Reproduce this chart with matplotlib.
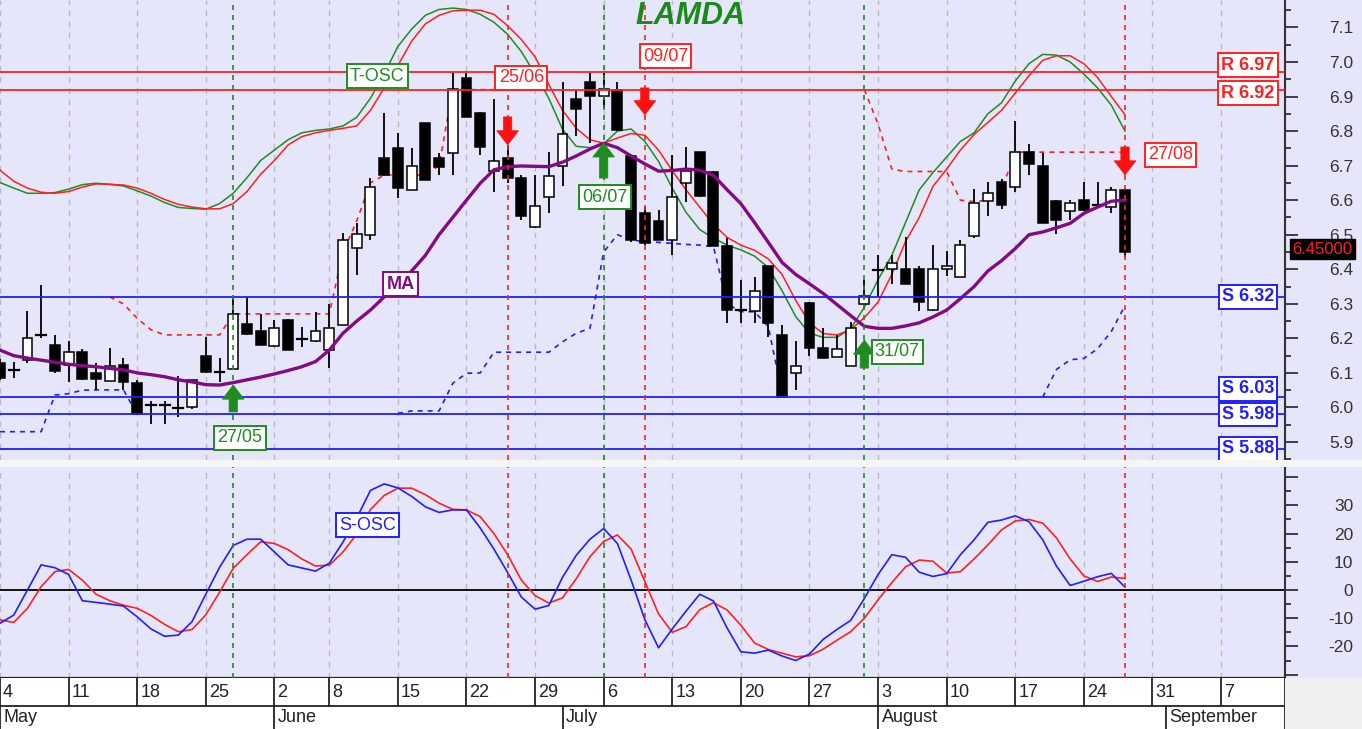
import numpy as np
import matplotlib.pyplot as plt
from matplotlib.patches import Rectangle
from matplotlib.ticker import FixedLocator, FixedFormatter

plt.rcParams['font.family'] = ['Liberation Sans', 'DejaVu Sans']

# daily candles, index 0 = Mon 4 May (trading days only)
opens = [6.13, 6.112, 6.137, 6.214, 6.18, 6.123, 6.16, 6.10, 6.078, 6.123,
         6.072, 6.008, 6.008, 6.002, 6.0, 6.15, 6.105, 6.111, 6.242, 6.222,
         6.178, 6.253, 6.201, 6.192, 6.165, 6.24, 6.461, 6.499, 6.723, 6.752,
         6.63, 6.823, 6.723, 6.737, 6.953, 6.853, 6.685, 6.723, 6.663, 6.523,
         6.61, 6.699, 6.892, 6.943, 6.902, 6.919, 6.727, 6.562, 6.54, 6.485,
         6.651, 6.74, 6.683, 6.466, 6.283, 6.279, 6.41, 6.21, 6.101, 6.302,
         6.171, 6.147, 6.121, 6.30, 6.401, 6.40, 6.40, 6.40, 6.282, 6.40,
         6.379, 6.496, 6.599, 6.654, 6.637, 6.739, 6.70, 6.599, 6.569, 6.60,
         6.588, 6.581, 6.63]
highs = [6.14, 6.133, 6.28, 6.355, 6.21, 6.193, 6.17, 6.128, 6.171, 6.142,
         6.08, 6.02, 6.02, 6.09, 6.08, 6.203, 6.142, 6.321, 6.321, 6.271,
         6.253, 6.255, 6.232, 6.277, 6.30, 6.505, 6.534, 6.663, 6.853, 6.795,
         6.752, 6.823, 6.737, 6.967, 6.967, 6.855, 6.892, 6.76, 6.673, 6.673,
         6.74, 6.943, 6.919, 6.967, 6.967, 6.943, 6.73, 6.58, 6.572, 6.731,
         6.755, 6.74, 6.685, 6.49, 6.369, 6.379, 6.41, 6.239, 6.192, 6.305,
         6.229, 6.21, 6.248, 6.369, 6.441, 6.441, 6.493, 6.41, 6.47, 6.454,
         6.485, 6.632, 6.654, 6.66, 6.83, 6.763, 6.736, 6.60, 6.60, 6.654,
         6.654, 6.639, 6.635]
lows = [6.08, 6.085, 6.13, 6.20, 6.10, 6.075, 6.08, 6.05, 6.078, 6.05,
        5.98, 5.952, 5.952, 5.973, 5.995, 6.10, 6.075, 6.11, 6.21, 6.18,
        6.175, 6.165, 6.174, 6.19, 6.113, 6.238, 6.383, 6.485, 6.67, 6.605,
        6.63, 6.657, 6.673, 6.673, 6.84, 6.731, 6.625, 6.649, 6.543, 6.52,
        6.564, 6.641, 6.786, 6.765, 6.866, 6.80, 6.48, 6.47, 6.485, 6.44,
        6.596, 6.61, 6.466, 6.244, 6.244, 6.244, 6.205, 6.03, 6.051, 6.149,
        6.142, 6.145, 6.12, 6.30, 6.32, 6.357, 6.357, 6.28, 6.28, 6.382,
        6.379, 6.49, 6.554, 6.574, 6.625, 6.673, 6.533, 6.502, 6.543, 6.57,
        6.58, 6.564, 6.436]
closes = [6.085, 6.108, 6.20, 6.21, 6.105, 6.161, 6.082, 6.082, 6.121, 6.075,
          5.98, 6.006, 6.006, 5.998, 6.08, 6.102, 6.103, 6.271, 6.213, 6.181,
          6.231, 6.165, 6.199, 6.222, 6.231, 6.485, 6.502, 6.639, 6.673, 6.634,
          6.699, 6.657, 6.695, 6.921, 6.842, 6.755, 6.713, 6.665, 6.555, 6.583,
          6.67, 6.792, 6.863, 6.902, 6.921, 6.803, 6.485, 6.475, 6.485, 6.61,
          6.685, 6.612, 6.466, 6.282, 6.281, 6.338, 6.244, 6.031, 6.121, 6.173,
          6.142, 6.169, 6.231, 6.323, 6.399, 6.419, 6.357, 6.304, 6.40, 6.41,
          6.47, 6.591, 6.622, 6.586, 6.739, 6.704, 6.533, 6.543, 6.591, 6.572,
          6.585, 6.63, 6.45]

ma = [6.166, 6.150, 6.143, 6.137, 6.131, 6.125, 6.121, 6.118, 6.113, 6.109,
      6.100, 6.095, 6.089, 6.080, 6.074, 6.066, 6.065, 6.072, 6.080, 6.088,
      6.097, 6.107, 6.118, 6.133, 6.166, 6.215, 6.250, 6.282, 6.320, 6.350,
      6.395, 6.440, 6.500, 6.550, 6.600, 6.649, 6.688, 6.697, 6.699, 6.698,
      6.697, 6.710, 6.728, 6.748, 6.765, 6.752, 6.728, 6.705, 6.684, 6.686,
      6.690, 6.687, 6.672, 6.630, 6.590, 6.535, 6.478, 6.420, 6.385, 6.358,
      6.330, 6.298, 6.266, 6.235, 6.229, 6.229, 6.236, 6.245, 6.262, 6.282,
      6.315, 6.350, 6.395, 6.425, 6.460, 6.500, 6.508, 6.520, 6.533, 6.562,
      6.580, 6.597, 6.600]

tosc_fast = [6.651, 6.635, 6.620, 6.620, 6.622, 6.632, 6.645, 6.649, 6.646, 6.641,
             6.627, 6.612, 6.593, 6.579, 6.576, 6.574, 6.590, 6.620, 6.665, 6.715,
             6.745, 6.775, 6.795, 6.802, 6.806, 6.815, 6.840, 6.895, 6.965, 7.045,
             7.095, 7.135, 7.152, 7.156, 7.152, 7.138, 7.115, 7.080, 7.030, 6.965,
             6.895, 6.805, 6.756, 6.752, 6.763, 6.800, 6.806, 6.770, 6.712, 6.635,
             6.565, 6.515, 6.490, 6.470, 6.456, 6.438, 6.405, 6.338, 6.263, 6.215,
             6.203, 6.203, 6.228, 6.290, 6.370, 6.440, 6.535, 6.630, 6.680, 6.725,
             6.770, 6.795, 6.850, 6.882, 6.945, 6.995, 7.022, 7.020, 7.000, 6.965,
             6.925, 6.875, 6.800]
tosc_slow = [6.687, 6.655, 6.635, 6.623, 6.620, 6.625, 6.638, 6.647, 6.646, 6.644,
             6.635, 6.620, 6.602, 6.588, 6.580, 6.575, 6.575, 6.590, 6.625, 6.675,
             6.715, 6.760, 6.784, 6.795, 6.802, 6.808, 6.815, 6.860, 6.925, 6.990,
             7.060, 7.110, 7.135, 7.148, 7.150, 7.150, 7.138, 7.105, 7.065, 7.015,
             6.935, 6.860, 6.808, 6.775, 6.765, 6.780, 6.793, 6.788, 6.745, 6.685,
             6.630, 6.580, 6.530, 6.492, 6.470, 6.455, 6.430, 6.385, 6.310, 6.245,
             6.214, 6.210, 6.225, 6.260, 6.305, 6.385, 6.480, 6.550, 6.640, 6.690,
             6.745, 6.790, 6.825, 6.860, 6.910, 6.960, 7.005, 7.018, 7.018, 6.995,
             6.955, 6.900, 6.847]

# trailing stop lines: (first index, values)
red_stops = [(8, [6.32, 6.30, 6.258, 6.225, 6.21, 6.21, 6.21, 6.21, 6.21, 6.271,
                  6.271, 6.271, 6.271, 6.271, 6.271, 6.271, 6.271, 6.45, 6.54, 6.65,
                  6.673, 6.673, 6.673, 6.673, 6.70, 6.92, 6.92, 6.92, 6.92, 6.92]),
             (63, [6.92, 6.82, 6.69, 6.683, 6.683, 6.683, 6.683, 6.60, 6.596, 6.60,
                   6.63, 6.739, 6.739, 6.739, 6.739, 6.739, 6.739, 6.739, 6.739, 6.739])]
blue_stops = [(0, [5.93, 5.93, 5.93, 5.93, 6.036, 6.04, 6.05, 6.051, 6.051, 6.051, 5.98]),
              (29, [5.983, 5.99, 5.99, 5.99, 6.07, 6.099, 6.10, 6.16, 6.16, 6.16,
                    6.16, 6.16, 6.19, 6.215, 6.229, 6.45, 6.50, 6.485, 6.48, 6.478,
                    6.475, 6.472, 6.47, 6.466, 6.30, 6.277, 6.277, 6.234, 6.04]),
              (76, [6.03, 6.11, 6.138, 6.142, 6.17, 6.22, 6.295])]

sosc_fast = [-11.8, -8.9, 0.0, 8.9, 7.9, 5.5, -3.8, -4.4, -5.0, -5.7,
             -9.5, -13.8, -16.4, -16.0, -11.2, -1.5, 8.0, 15.8, 18.0, 18.0,
             13.5, 8.9, 7.8, 6.7, 9.5, 17.0, 25.5, 35.3, 37.6, 36.2,
             33.2, 29.5, 27.5, 28.4, 28.4, 22.0, 14.5, 6.2, -2.5, -6.8,
             -5.5, 4.5, 12.3, 18.0, 21.8, 16.5, 3.5, -10.5, -20.5, -13.8,
             -7.5, -1.5, -3.9, -13.5, -21.9, -22.4, -21.3, -23.4, -25.0, -22.7,
             -17.5, -14.0, -10.8, -3.0, 5.5, 12.5, 11.6, 6.3, 4.8, 5.8,
             12.5, 17.8, 24.0, 24.8, 26.3, 24.2, 17.8, 8.5, 1.6, 3.1,
             4.7, 5.9, 1.0]
sosc_slow = [-10.6, -11.5, -6.5, 1.2, 6.5, 7.3, 3.5, -1.5, -3.8, -5.4,
             -6.5, -9.0, -12.2, -14.8, -14.0, -8.8, -0.8, 7.7, 12.5, 17.1,
             16.5, 14.3, 11.0, 8.5, 8.8, 13.5, 19.8, 28.5, 33.5, 36.1,
             36.1, 33.8, 30.8, 28.6, 28.4, 26.0, 20.0, 12.5, 3.5, -2.0,
             -4.6, -2.8, 4.0, 11.8, 17.2, 19.5, 14.5, 3.0, -8.5, -15.0,
             -13.0, -7.0, -4.5, -7.1, -12.5, -18.8, -21.1, -22.4, -23.7, -23.3,
             -21.0, -17.8, -14.8, -10.0, -3.5, 2.6, 8.2, 10.6, 10.2, 6.0,
             6.5, 11.0, 16.0, 21.3, 24.5, 25.0, 23.7, 18.5, 11.0, 5.0,
             3.0, 4.6, 4.1]

resistances = [6.97, 6.92]
supports = [6.32, 6.03, 5.98, 5.88]

buy_signals = [(17, '27/05'), (44, '06/07'), (63, '31/07')]
sell_signals = [(37, '25/06'), (47, '09/07'), (82, '27/08')]

week_starts = [0, 5, 10, 15, 20, 24, 29, 34, 39, 44, 49, 54, 59, 64, 69, 74, 79, 84, 89]
week_labels = ['4', '11', '18', '25', '2', '8', '15', '22', '29', '6', '13', '20',
               '27', '3', '10', '17', '24', '31', '7']
month_starts = [0, 20, 41, 64, 85]
month_labels = ['May', 'June', 'July', 'August', 'September']

BG = '#e6e6fa'
RED = '#ff2020'
GREEN = '#1e8c1e'
BLUE = '#1f1fff'
PURPLE = '#820a82'
W, H = 1362, 729
XMAX = 93.66


def box(l, t, r, b):
    return [l / W, 1 - b / H, (r - l) / W, (b - t) / H]


fig = plt.figure(figsize=(W / 100, H / 100), dpi=100, facecolor=BG)
ax = fig.add_axes(box(0, 0, 1285, 460), facecolor=BG)
ax2 = fig.add_axes(box(0, 467, 1285, 678), facecolor=BG)
axd = fig.add_axes(box(0, 678, 1285, 729), facecolor='white')

fig.patches.append(Rectangle((0, 1 - 467 / H), 1, 7 / H, transform=fig.transFigure,
                             facecolor='#f6f6f6', edgecolor='none'))
fig.patches.append(Rectangle((1285 / W, 0), 77 / W, 51 / H, transform=fig.transFigure,
                             facecolor='#f0f0f0', edgecolor='none'))

x = np.arange(len(closes))

# ---------- price panel ----------
ax.set_xlim(0, XMAX)
ax.set_ylim(5.848, 7.1794)
for w in week_starts:
    ax.axvline(w, color='#b9b9c4', lw=1, ls=(0, (4, 4)), zorder=1)
    ax2.axvline(w, color='#b9b9c4', lw=1, ls=(0, (4, 4)), zorder=1)

ax.plot(x, tosc_fast, color=GREEN, lw=1.1, zorder=2)
ax.plot(x, tosc_slow, color=RED, lw=1.1, zorder=2)

for start, vals in red_stops:
    ax.plot(np.arange(start, start + len(vals)), vals, color=RED, lw=1.2,
            ls=(0, (3, 3)), zorder=2)
for start, vals in blue_stops:
    ax.plot(np.arange(start, start + len(vals)), vals, color=BLUE, lw=1.2,
            ls=(0, (3, 3)), zorder=2)

bw = 0.72
for i in range(len(closes)):
    o, h, l, c = opens[i], highs[i], lows[i], closes[i]
    ax.plot([i, i], [l, h], color='black', lw=1.3, zorder=3, solid_capstyle='butt')
    if abs(c - o) < 0.005:
        ax.plot([i - bw / 2, i + bw / 2], [c, c], color='black', lw=1.6, zorder=3)
    else:
        fc = 'white' if c > o else 'black'
        ax.add_patch(Rectangle((i - bw / 2, min(o, c)), bw, abs(c - o),
                               facecolor=fc, edgecolor='black', lw=1.1, zorder=3))

ax.plot(x, ma, color=PURPLE, lw=2.4, zorder=4)

for r in resistances:
    ax.axhline(r, color=RED, lw=1.3, zorder=5)
for s in supports:
    ax.axhline(s, color=BLUE, lw=1.3, zorder=5)

for i, _ in buy_signals:
    ax.axvline(i, color=GREEN, lw=1.2, ls=(0, (3, 3)), zorder=5)
    ax2.axvline(i, color=GREEN, lw=1.2, ls=(0, (3, 3)), zorder=5)
for i, _ in sell_signals:
    ax.axvline(i, color=RED, lw=1.2, ls=(0, (3, 3)), zorder=5)
    ax2.axvline(i, color=RED, lw=1.2, ls=(0, (3, 3)), zorder=5)

# signal arrows (tail, tip) in price units
arrow_spans = {17: (5.987, 6.065), 44: (6.664, 6.766), 63: (6.114, 6.195),
               37: (6.841, 6.760), 47: (6.925, 6.847), 82: (6.754, 6.673)}
for i, _ in buy_signals + sell_signals:
    tail, tip = arrow_spans[i]
    col = GREEN if tip > tail else '#ff1010'
    an = ax.annotate('', xy=(i, tip), xytext=(i, tail),
                     arrowprops=dict(arrowstyle='simple,head_width=1.3,head_length=0.85,tail_width=0.5',
                                     fc=col, ec=col, lw=0.5, shrinkA=0, shrinkB=0,
                                     mutation_scale=12))
    an.set_zorder(7)


def tag(axis, xv, yv, s, col, size=13, weight='normal'):
    axis.text(xv, yv, s, color=col, fontsize=size, fontweight=weight, ha='center',
              va='center', zorder=8,
              bbox=dict(boxstyle='square,pad=0.18', fc='white', ec=col, lw=1.4))


tag(ax, 17.5, 5.912, '27/05', GREEN)
tag(ax, 44.1, 6.609, '06/07', GREEN)
tag(ax, 65.4, 6.161, '31/07', GREEN)
tag(ax, 38.0, 6.954, '25/06', RED)
tag(ax, 48.5, 7.017, '09/07', RED)
tag(ax, 85.3, 6.731, '27/08', RED)
tag(ax, 27.5, 6.959, 'T-OSC', GREEN)
tag(ax, 29.2, 6.357, 'MA', PURPLE, weight='bold')

label_y = {6.97: 6.991, 6.92: 6.910, 6.32: 6.32, 6.03: 6.054, 5.98: 5.98, 5.88: 5.88}
for r in resistances:
    tag(ax, 90.96, label_y[r], f'R {r:.2f}', RED, weight='bold')
for s in supports:
    tag(ax, 90.96, label_y[s], f'S {s:.2f}', BLUE, weight='bold')

ax.text(50.3, 7.133, 'LAMDA', color='#1a8a1a', fontsize=22, fontweight='bold',
        fontstyle='italic', ha='center', va='center', zorder=8)

fig.text(1322 / W, 1 - 249 / H, f'{closes[-1]:.5f}', color='#ff2020', fontsize=12,
         ha='center', va='center',
         bbox=dict(boxstyle='square,pad=0.15', fc='black', ec='black'))

ax.yaxis.tick_right()
ax.set_yticks(np.round(np.arange(5.9, 7.15, 0.1), 2))
ax.set_yticklabels([f'{v:.1f}' for v in np.arange(5.9, 7.15, 0.1)])
ax.set_yticks(np.round(np.arange(5.85, 7.18, 0.05), 2), minor=True)
ax.tick_params(axis='y', which='major', length=9.5, width=1.3, color='#333333',
               pad=39.6, labelsize=12.5, labelcolor='#333333')
ax.tick_params(axis='y', which='minor', length=4, width=1.3, color='#333333')
for t in ax.get_yticklabels():
    t.set_horizontalalignment('right')
ax.set_xticks([])

for a in (ax, ax2):
    for sp in ('left', 'top', 'bottom'):
        a.spines[sp].set_visible(False)
    a.spines['right'].set_color('#333333')
    a.spines['right'].set_linewidth(1.5)

# ---------- oscillator panel ----------
ax2.set_xlim(0, XMAX)
ax2.set_ylim(-31.2, 43.6)
ax2.axhline(0, color='black', lw=1.3, zorder=2)
ax2.plot(x, sosc_slow, color=RED, lw=1.2, zorder=3)
ax2.plot(x, sosc_fast, color=BLUE, lw=1.2, zorder=3)
ax2.text(26.8, 23.0, 'S-OSC', color=BLUE, fontsize=13, ha='center', va='center', zorder=8,
         bbox=dict(boxstyle='square,pad=0.18', fc='white', ec=BLUE, lw=1.4))

osc_major = [-30, -20, -10, 0, 10, 20, 30, 40]
ax2.yaxis.tick_right()
ax2.yaxis.set_major_locator(FixedLocator(osc_major))
ax2.yaxis.set_major_formatter(FixedFormatter(['' if v in (-30, 40) else str(v) for v in osc_major]))
ax2.yaxis.set_minor_locator(FixedLocator(np.arange(-30, 45, 5)))
ax2.tick_params(axis='y', which='major', length=9.5, width=1.3, color='#333333',
                pad=39.6, labelsize=12.5, labelcolor='#333333')
ax2.tick_params(axis='y', which='minor', length=4, width=1.3, color='#333333')
for t in ax2.get_yticklabels():
    t.set_horizontalalignment('right')
ax2.set_xticks([])
ax2.spines['bottom'].set_visible(True)
ax2.spines['bottom'].set_color('#222222')
ax2.spines['bottom'].set_linewidth(1.6)

# ---------- date strip ----------
axd.set_xlim(0, XMAX)
axd.set_ylim(729, 678)
axd.set_xticks([])
axd.set_yticks([])
for sp in axd.spines.values():
    sp.set_visible(False)
axd.plot([0, XMAX], [706, 706], color='#222222', lw=1.3)
axd.plot([XMAX, XMAX], [678, 729], color='#222222', lw=1.3)
for w, lab in zip(week_starts, week_labels):
    axd.plot([w, w], [678, 706], color='#222222', lw=1.3)
    axd.text(w + 0.22, 692.5, lab, fontsize=13, color='#222222', ha='left', va='center')
for m, lab in zip(month_starts, month_labels):
    axd.plot([m, m], [706, 729], color='#222222', lw=1.3)
    axd.text(m + 0.25, 718, lab, fontsize=13, color='#222222', ha='left', va='center')

fig.savefig('out.png', dpi=100, facecolor=BG)
